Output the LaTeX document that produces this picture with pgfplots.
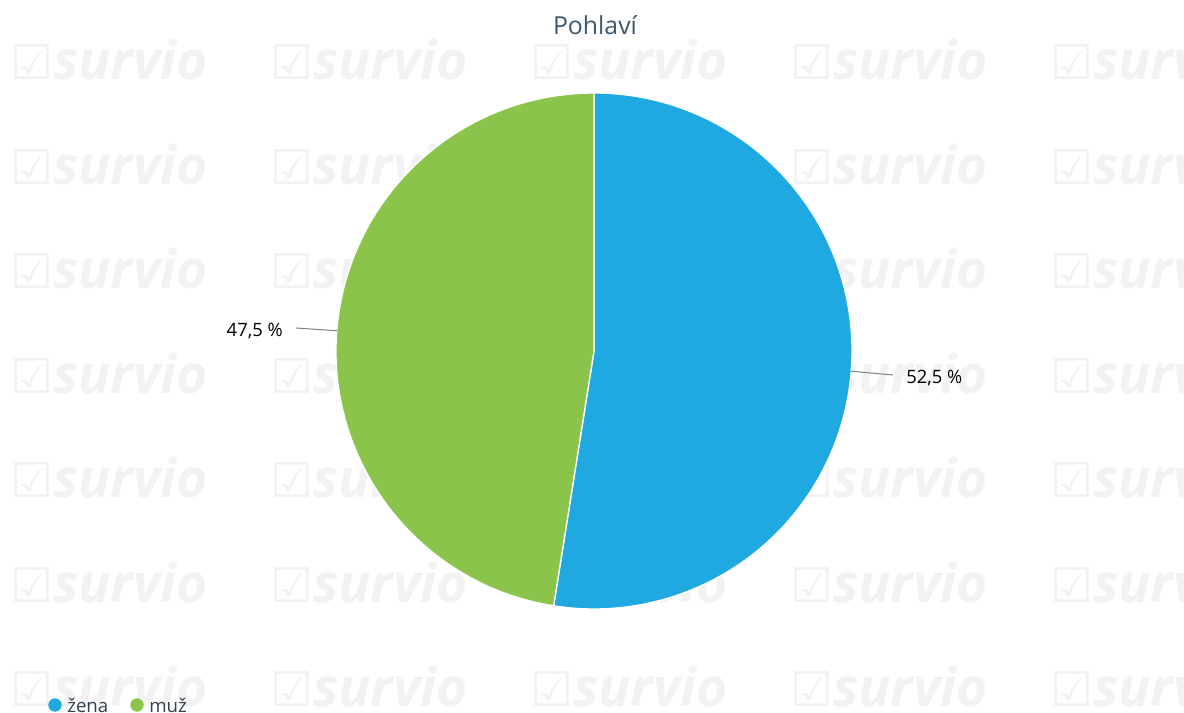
\documentclass[border=0pt]{standalone}
\usepackage{fontspec}
\setmainfont{Open Sans}
\newfontfamily\symfont{DejaVu Sans}
\usepackage{pgfplots}
\pgfplotsset{compat=1.18}
\usepackage{pgfplotstable}
\definecolor{zena}{HTML}{20A8E0}
\definecolor{muz}{HTML}{8BC44A}
\definecolor{titlec}{HTML}{3E576F}
\definecolor{legc}{HTML}{333F4F}
\definecolor{wm}{HTML}{F2F2F2}
\definecolor{conn}{HTML}{808080}

\pgfplotstableread{
value
52.5
47.5
}\piedata

\begin{document}
\begin{tikzpicture}
\useasboundingbox (0,0) rectangle (888pt,534.75pt);
\pgfplotstablegetelem{0}{value}\of\piedata \let\va\pgfplotsretval
\pgfplotstablegetelem{1}{value}\of\piedata \let\vb\pgfplotsretval
\pgfmathsetmacro\aA{90-3.6*\va}
\pgfmathsetmacro\aB{\aA-3.6*\vb}
\pgfmathsetmacro\midA{90-1.8*\va}
\pgfmathsetmacro\midB{\aA-1.8*\vb}
% watermark
\begin{scope}
\clip (0,0) rectangle (888pt,534.75pt);
\foreach \cx in {10,270,530,790,1050}{
  \foreach \ry in {0,...,6}{
    \pgfmathsetmacro\yy{(713-(60+104.5*\ry))*0.75}
    \node[anchor=west,text=wm,inner sep=0pt] at ({\cx*0.75pt},{\yy pt})
      {{\symfont\fontsize{36}{36}\selectfont ☑}{\fontsize{40}{40}\selectfont\bfseries\itshape survio}};
  }
}
\end{scope}
\begin{axis}[width=888pt,height=534.75pt,scale only axis,
  xmin=0,xmax=1184,ymin=0,ymax=713,hide axis,clip=false]
\fill[zena, draw=white, line width=1pt] (axis cs:594,362) -- ++(90:193.5pt)
  arc[start angle=90,end angle=\aA,radius=193.5pt] -- cycle;
\fill[muz, draw=white, line width=1pt] (axis cs:594,362) -- ++(\aA:193.5pt)
  arc[start angle=\aA,end angle=\aB,radius=193.5pt] -- cycle;
% connectors and labels
\draw[conn, line width=0.75pt] ([shift={(\midA:193.5pt)}]axis cs:594,362) -- (axis cs:893,338);
\node[anchor=west, inner sep=0pt, font=\fontsize{13.8}{16}\selectfont] at (axis cs:906,335) {52,5 \%};
\draw[conn, line width=0.75pt] ([shift={(\midB:193.5pt)}]axis cs:594,362) -- (axis cs:296,385);
\node[anchor=east, inner sep=0pt, font=\fontsize{13.8}{16}\selectfont] at (axis cs:283,382) {47,5 \%};
% title
\node[text=titlec, font=\fontsize{18.6}{22}\selectfont] at (axis cs:595,688) {Pohlaví};
% legend
\fill[zena] (axis cs:55,8) circle[radius=5pt];
\node[anchor=west, inner sep=0pt, text=legc, font=\fontsize{14}{16}\selectfont] at (axis cs:67,8) {žena};
\fill[muz] (axis cs:137,8) circle[radius=5pt];
\node[anchor=west, inner sep=0pt, text=legc, font=\fontsize{14}{16}\selectfont] at (axis cs:149,8) {muž};
\end{axis}
\end{tikzpicture}
\end{document}
